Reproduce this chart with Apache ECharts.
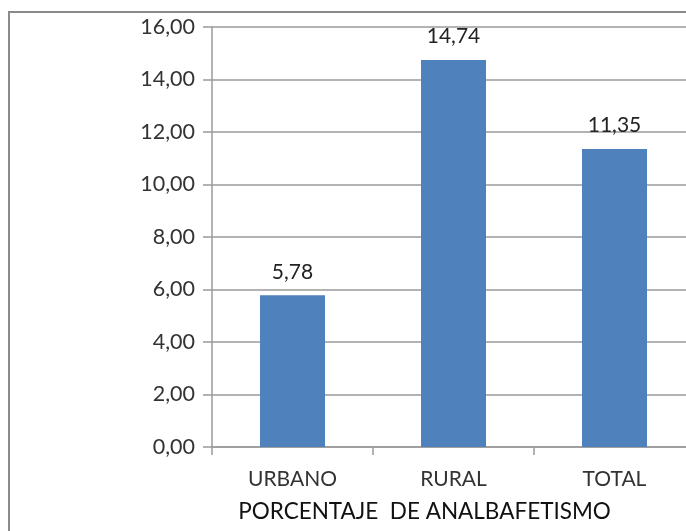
<!DOCTYPE html>
<html><head><meta charset="utf-8">
<script src="https://cdn.jsdelivr.net/npm/echarts@6/dist/echarts.min.js"></script>
<style>html,body{margin:0;padding:0;background:#fff}#c{width:686px;height:531px}</style>
</head><body><div id="c"></div>
<script>
const categories = ['URBANO', 'RURAL', 'TOTAL'];
const values = [5.78, 14.74, 11.35];
const axisName = 'PORCENTAJE  DE ANALBAFETISMO';
const yMin = 0, yMax = 16, yStep = 2;

const fmt = v => v.toFixed(2).replace('.', ',');
const font = 'Lato, "Open Sans", sans-serif';
const chart = echarts.init(document.getElementById('c'));
chart.setOption({
  animation: false,
  graphic: [{type: 'rect', shape: {x: 9, y: 12, width: 720, height: 560},
    style: {fill: 'none', stroke: '#8a8a8a', lineWidth: 2}, silent: true}],
  grid: {left: 212, top: 27, width: 483, height: 420, containLabel: false, outerBoundsMode: 'none'},
  xAxis: {
    type: 'category', data: categories,
    axisLine: {lineStyle: {color: '#9a9a9a', width: 1.5}},
    axisTick: {show: true, length: 8, lineStyle: {color: '#9a9a9a', width: 1.5}},
    axisLabel: {color: '#333', fontSize: 21, fontFamily: font, margin: 22},
    name: axisName, nameLocation: 'middle', nameGap: 53,
    nameTextStyle: {color: '#111', fontSize: 22.5, fontFamily: font, padding: [0, 58, 0, 0]}
  },
  yAxis: {
    type: 'value', min: yMin, max: yMax, interval: yStep,
    axisLine: {show: true, lineStyle: {color: '#9a9a9a', width: 1.5}},
    axisTick: {show: true, length: 9, lineStyle: {color: '#9a9a9a', width: 1.5}},
    axisLabel: {color: '#333', fontSize: 21.5, fontFamily: font, margin: 17, formatter: fmt},
    splitLine: {lineStyle: {color: '#9a9a9a', width: 1.5}}
  },
  series: [{
    type: 'bar', data: values, barWidth: 65,
    itemStyle: {color: '#4f81bd'},
    label: {show: true, position: 'top', distance: 13, color: '#222',
      fontSize: 21, fontFamily: font, formatter: p => fmt(p.value)}
  }]
});
</script></body></html>
